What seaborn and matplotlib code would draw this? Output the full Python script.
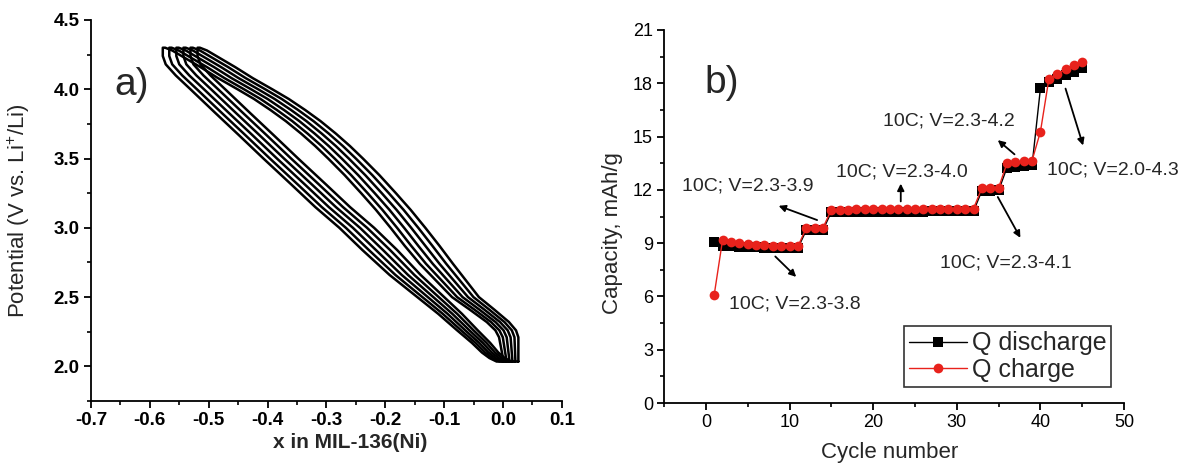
import pandas as pd
import matplotlib
matplotlib.use("Agg")
import matplotlib.pyplot as plt
from matplotlib.ticker import MultipleLocator, FormatStrFormatter
import seaborn as sns

# ---- panel a: charge/discharge loops, one base loop
upper_x = [0.026, 0.026, 0.022, 0.010, -0.015, -0.041, -0.063, -0.085, -0.108, -0.132,
           -0.157, -0.182, -0.210, -0.238, -0.260, -0.284, -0.310, -0.336, -0.364,
           -0.392, -0.425, -0.455, -0.487, -0.503, -0.515, -0.519]
upper_v = [2.035, 2.21, 2.26, 2.32, 2.41, 2.50, 2.62, 2.74, 2.87, 3.00,
           3.13, 3.25, 3.38, 3.50, 3.59, 3.68, 3.77, 3.85, 3.93,
           4.00, 4.08, 4.16, 4.24, 4.28, 4.30, 4.30]
lower_x = [-0.519, -0.519, -0.514, -0.497, -0.472, -0.430, -0.390, -0.348, -0.300, -0.260,
           -0.219, -0.180, -0.140, -0.100, -0.070, -0.043, -0.022, -0.008, 0.003,
           0.014, 0.026]
lower_v = [4.30, 4.24, 4.18, 4.10, 4.00, 3.83, 3.67, 3.50, 3.31, 3.15,
           3.00, 2.84, 2.66, 2.50, 2.38, 2.26, 2.17, 2.10, 2.06,
           2.035, 2.035]
# horizontal shift of each of the six cycles: full spread above ~2.8 V,
# squeezed together at the bottom corner (2.0 V)
shift_top = [0.0, -0.012, -0.024, -0.036, -0.048, -0.059]
shift_bottom = [0.0, -0.005, -0.010, -0.015, -0.020, -0.025]
V_FULL, V_BOTTOM = 2.80, 2.035

# ---- panel b: rate capability
cycles = list(range(1, 46))
q_discharge = [9.05, 8.85, 8.82, 8.80, 8.78, 8.76, 8.75, 8.74, 8.73, 8.72, 8.72,
               9.72, 9.72, 9.74,
               10.75, 10.75, 10.76, 10.76, 10.76, 10.77, 10.77, 10.77, 10.78,
               10.78, 10.78, 10.78, 10.79, 10.79, 10.79, 10.80, 10.80, 10.80,
               11.95, 11.96, 11.97,
               13.25, 13.30, 13.35, 13.40,
               17.72,
               18.05, 18.25, 18.45, 18.65, 18.85]
q_charge = [6.10, 9.19, 9.08, 9.02, 8.96, 8.92, 8.89, 8.86, 8.84, 8.83, 8.82,
            9.84, 9.85, 9.86,
            10.88, 10.89, 10.89, 10.90, 10.90, 10.90, 10.91, 10.91, 10.91,
            10.92, 10.92, 10.92, 10.93, 10.93, 10.93, 10.94, 10.94, 10.95,
            12.10, 12.11, 12.12,
            13.50, 13.55, 13.60, 13.65,
            15.28,
            18.22, 18.52, 18.79, 19.03, 19.22]

# annotation text, text anchor (left, centre) and arrow tail -> head
notes = ["10C; V=2.3-3.8", "10C; V=2.3-3.9", "10C; V=2.3-4.0",
         "10C; V=2.3-4.1", "10C; V=2.3-4.2", "10C; V=2.0-4.3"]
note_xy = [(2.8, 5.6), (-2.9, 12.2), (15.5, 13.0), (28.0, 7.9), (21.2, 15.9), (40.8, 13.1)]
arrow_tail = [(8.3, 8.25), (13.3, 10.3), (23.3, 11.35), (34.9, 11.6), (36.9, 14.0), (43.0, 17.7)]
arrow_head = [(10.8, 7.1), (8.7, 11.1), (23.3, 12.35), (37.6, 9.3), (34.9, 14.8), (45.1, 14.5)]

sns.set_style("ticks")
plt.rcParams["font.family"] = ["Liberation Sans", "DejaVu Sans"]
plt.rcParams["mathtext.fontset"] = "custom"
plt.rcParams["mathtext.rm"] = "Liberation Sans"
plt.rcParams["axes.unicode_minus"] = False

fig = plt.figure(figsize=(11.86, 4.65), dpi=100)
ax_a = fig.add_axes([0.0767, 0.1376, 0.3971, 0.8194])
ax_b = fig.add_axes([0.5599, 0.1333, 0.3879, 0.8022])

# build loops
rows = []
for k, (st, sb) in enumerate(zip(shift_top, shift_bottom)):
    for x, v in zip(upper_x + lower_x, upper_v + lower_v):
        w = min(1.0, (v - V_BOTTOM) / (V_FULL - V_BOTTOM))
        rows.append({"cycle": k, "x": x + sb + (st - sb) * w, "V": v})
loops = pd.DataFrame(rows)
sns.lineplot(data=loops, x="x", y="V", units="cycle", estimator=None, sort=False,
             color="black", lw=1.8, ax=ax_a)

ax_a.set_xlim(-0.7, 0.1)
ax_a.set_ylim(1.75, 4.5)
ax_a.xaxis.set_major_locator(MultipleLocator(0.1))
ax_a.xaxis.set_minor_locator(MultipleLocator(0.05))
ax_a.yaxis.set_minor_locator(MultipleLocator(0.25))
ax_a.set_yticks([2.0, 2.5, 3.0, 3.5, 4.0, 4.5])
ax_a.xaxis.set_major_formatter(FormatStrFormatter("%.1f"))
ax_a.yaxis.set_major_formatter(FormatStrFormatter("%.1f"))
ax_a.set_xlabel("x in MIL-136(Ni)", fontsize=15, fontweight="bold")
ax_a.set_ylabel("Potential (V vs. Li$^{+}$/Li)", fontsize=16)
ax_a.xaxis.set_label_coords(0.55, -0.085)
ax_a.yaxis.set_label_coords(-0.125, 0.5)
ax_a.text(0.05, 0.83, "a)", transform=ax_a.transAxes, fontsize=28, va="center")

# panel b
rate = pd.DataFrame({"cycle": cycles, "Q discharge": q_discharge, "Q charge": q_charge})
sns.lineplot(data=rate, x="cycle", y="Q discharge", color="black", lw=1.0,
             marker="s", markersize=6.5, markeredgewidth=0, label="Q discharge", ax=ax_b)
sns.lineplot(data=rate, x="cycle", y="Q charge", color="#e8221c", lw=1.0,
             marker="o", markersize=7, markeredgewidth=0, label="Q charge", ax=ax_b)

for txt, xy, tail, head in zip(notes, note_xy, arrow_tail, arrow_head):
    ax_b.text(xy[0], xy[1], txt, fontsize=14, va="center", ha="left", clip_on=False)
    ax_b.annotate("", xy=head, xytext=tail,
                  arrowprops=dict(arrowstyle="-|>", color="black", lw=1.3,
                                  mutation_scale=10, shrinkA=0, shrinkB=0))

ax_b.set_xlim(-5, 50)
ax_b.set_ylim(0, 21)
ax_b.xaxis.set_major_locator(MultipleLocator(10))
ax_b.xaxis.set_minor_locator(MultipleLocator(5))
ax_b.yaxis.set_major_locator(MultipleLocator(3))
ax_b.yaxis.set_minor_locator(MultipleLocator(1.5))
ax_b.set_xlabel("Cycle number", fontsize=16)
ax_b.set_ylabel("Capacity, mAh/g", fontsize=16)
ax_b.xaxis.set_label_coords(0.49, -0.105)
ax_b.yaxis.set_label_coords(-0.09, 0.456)
ax_b.text(0.087, 0.858, "b)", transform=ax_b.transAxes, fontsize=28, va="center")

leg = ax_b.legend(loc="lower right", bbox_to_anchor=(0.972, 0.043), fontsize=18,
                  frameon=True, fancybox=False, numpoints=1, handlelength=2.3,
                  handletextpad=0.2, borderpad=0.2, labelspacing=0.1, borderaxespad=0)
leg.get_frame().set_edgecolor("black")
leg.get_frame().set_linewidth(1.2)

for ax in (ax_a, ax_b):
    sns.despine(ax=ax)
    for s in ("left", "bottom"):
        ax.spines[s].set_linewidth(1.3)
        ax.spines[s].set_color("black")
    ax.tick_params(which="major", direction="out", length=5, width=1.3,
                   labelsize=13, colors="black", pad=3)
    ax.tick_params(which="minor", direction="out", length=3, width=1.2, colors="black")
ax_a.tick_params(which="major", labelsize=13.5)
for lab in ax_a.get_xticklabels() + ax_a.get_yticklabels():
    lab.set_fontweight("bold")

fig.savefig("out.png", dpi=100)
